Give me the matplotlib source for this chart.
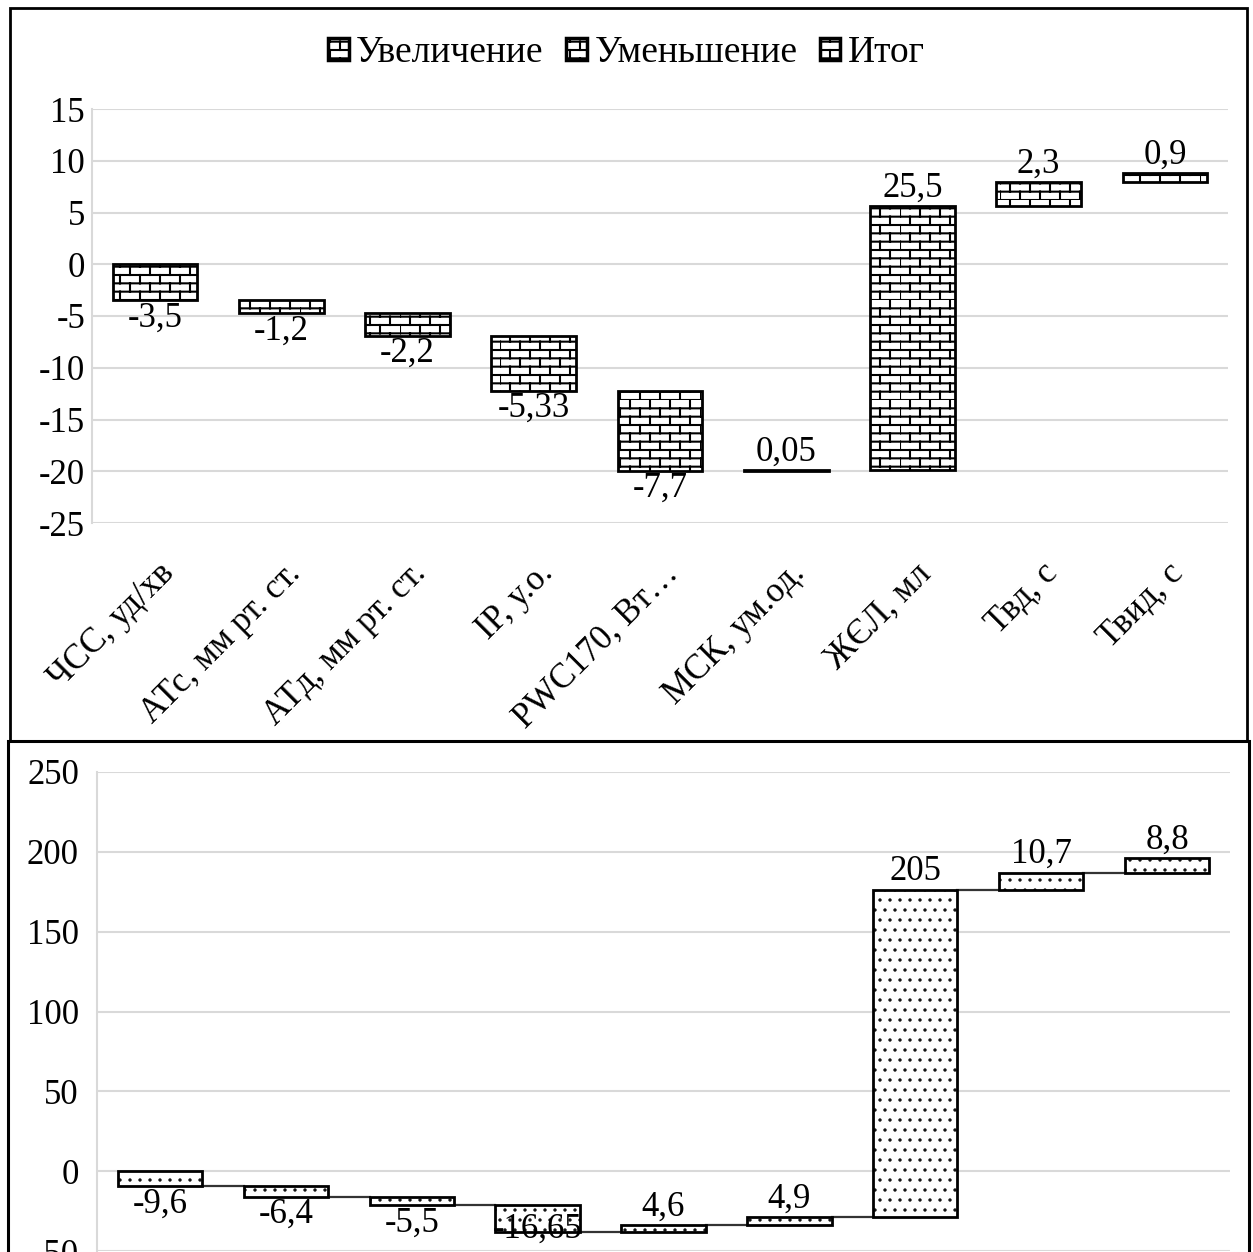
import warnings
import numpy as np
import matplotlib
matplotlib.use('Agg')
import matplotlib.pyplot as plt
import matplotlib.hatch as mhatch
import matplotlib.patches as mpatches
from matplotlib.path import Path
from matplotlib.transforms import ScaledTranslation

warnings.filterwarnings('ignore', category=matplotlib.MatplotlibDeprecationWarning)

categories = ['ЧСС, уд/хв', 'АТс, мм рт. ст.', 'АТд, мм рт. ст.', 'IP, у.о.',
              'PWC170, Вт…', 'МСК, ум.од.', 'ЖЄЛ, мл', 'Твд, с', 'Твид, с']
top_changes = [-3.5, -1.2, -2.2, -5.33, -7.7, 0.05, 25.5, 2.3, 0.9]
bottom_changes = [-9.6, -6.4, -5.5, -16.65, 4.6, 4.9, 205, 10.7, 8.8]
legend_labels = ['Увеличение', 'Уменьшение', 'Итог']
top_yticks = [-25, -20, -15, -10, -5, 0, 5, 10, 15]
bottom_yticks = [-50, 0, 50, 100, 150, 200, 250]


# brick hatch ('b') and sparse dot hatch ('d'), like the Excel pattern fills
class BrickHatch(mhatch.HatchPatternBase):
    def __init__(self, hatch, density):
        self.rows = 12 if 'b' in hatch else 0
        self.cols = 5
        self.num_vertices = self.rows * (self.cols + 1) * 2

    def set_vertices_and_codes(self, vertices, codes):
        segs = []
        for i in range(self.rows):
            y0, y1 = i / self.rows, (i + 1) / self.rows
            segs.append([(0, y0), (1, y0)])
            shift = 0.5 / self.cols if i % 2 else 0.0
            for j in range(self.cols):
                xx = j / self.cols + shift
                segs.append([(xx, y0), (xx, y1)])
        vertices[:] = np.array(segs).reshape(-1, 2)
        codes[0::2] = Path.MOVETO
        codes[1::2] = Path.LINETO


class DotHatch(mhatch.Circles):
    filled = True
    size = 0.06

    def __init__(self, hatch, density):
        self.num_rows = 10 if 'd' in hatch else 0  # must be even
        super().__init__(hatch, density)


mhatch._hatch_types.extend([BrickHatch, DotHatch])

plt.rcParams['font.family'] = ['Liberation Serif', 'DejaVu Serif']
plt.rcParams['axes.unicode_minus'] = False
plt.rcParams['hatch.linewidth'] = 1.5

W, H = 1253, 1252
fig = plt.figure(figsize=(W / 100, H / 100), dpi=100)
ax1 = fig.add_axes([92 / W, 1 - 523 / H, (1228 - 92) / W, (523 - 109) / H])
ax2 = fig.add_axes([97 / W, 1 - 1251 / H, (1230 - 97) / W, (1251 - 772) / H])

x = np.arange(len(categories))
bw = 0.67
grid_c = '#d9d9d9'
fs = 25


def fmt(v):
    return f'{v:g}'.replace('.', ',')


def waterfall(ax, changes, hatch, ylim, yticks, connectors, ypad):
    changes = np.array(changes)
    start = np.concatenate([[0], np.cumsum(changes)[:-1]])
    ends = start + changes
    ax.set_xlim(-0.5, len(x) - 0.5)
    ax.set_ylim(*ylim)
    ax.set_yticks(yticks)
    ax.bar(x, changes, bottom=start, width=bw, color='white', edgecolor='black',
           linewidth=2, hatch=hatch, zorder=3)
    if connectors:
        for i in range(len(x) - 1):
            ax.plot([x[i] + bw / 2, x[i + 1] - bw / 2], [ends[i], ends[i]],
                    color='#333333', lw=1.6, zorder=2)
    # label height in data units, used to keep labels inside the plot area
    lab_h = fs * 100 / 72 * 1.15 * (ylim[1] - ylim[0]) / ax.bbox.height
    for xi, s, v, e in zip(x, start, changes, ends):
        if v >= 0:
            ax.annotate(fmt(v), (xi, e), xytext=(0, 1), textcoords='offset points',
                        ha='center', va='bottom', fontsize=fs, zorder=4)
        elif e - lab_h < ylim[0]:
            ax.annotate(fmt(v), (xi, ylim[0] + 0.01 * (ylim[1] - ylim[0])),
                        ha='center', va='bottom', fontsize=fs, zorder=4)
        else:
            ax.annotate(fmt(v), (xi, e), xytext=(0, -1), textcoords='offset points',
                        ha='center', va='top', fontsize=fs, zorder=4)
    ax.grid(axis='y', color=grid_c, lw=1.5)
    ax.set_axisbelow(True)
    for sp in ['top', 'right', 'bottom']:
        ax.spines[sp].set_visible(False)
    ax.spines['left'].set_color(grid_c)
    ax.spines['left'].set_linewidth(1.5)
    ax.tick_params(axis='both', length=0, labelsize=fs)
    ax.tick_params(axis='y', pad=ypad)


waterfall(ax1, top_changes, 'b', (-25, 15), top_yticks, False, 5)
waterfall(ax2, bottom_changes, 'd', (-50, 250), bottom_yticks, True, 13)

ax1.set_xticks(x)
ax1.set_xticklabels(categories, rotation=45, ha='right', va='center',
                    rotation_mode='anchor')
ax1.tick_params(axis='x', pad=33)
shift = ScaledTranslation(14 / 100, 0, fig.dpi_scale_trans)
for lbl in ax1.get_xticklabels():
    lbl.set_transform(lbl.get_transform() + shift)
ax2.set_xticks(x)
ax2.set_xticklabels([])

handles = [mpatches.Patch(facecolor='white', edgecolor='black', lw=2.5, hatch='b')
           for _ in legend_labels]
fig.legend(handles, legend_labels, loc='center', bbox_to_anchor=(0.5, 1 - 53 / H),
           ncol=3, frameon=False, fontsize=27, handlelength=0.55, handleheight=0.55,
           handletextpad=0.2, columnspacing=0.6)

# panel frames
fig.add_artist(mpatches.Rectangle((10 / W, 1 - 741 / H), (1247 - 10) / W, (741 - 8) / H,
                                  transform=fig.transFigure, fill=False,
                                  edgecolor='black', lw=2))
fig.add_artist(mpatches.Rectangle((8 / W, -0.05), (1249 - 8) / W, 0.05 + 1 - 741 / H,
                                  transform=fig.transFigure, fill=False,
                                  edgecolor='black', lw=2.2))

fig.savefig('out.png', dpi=100)
